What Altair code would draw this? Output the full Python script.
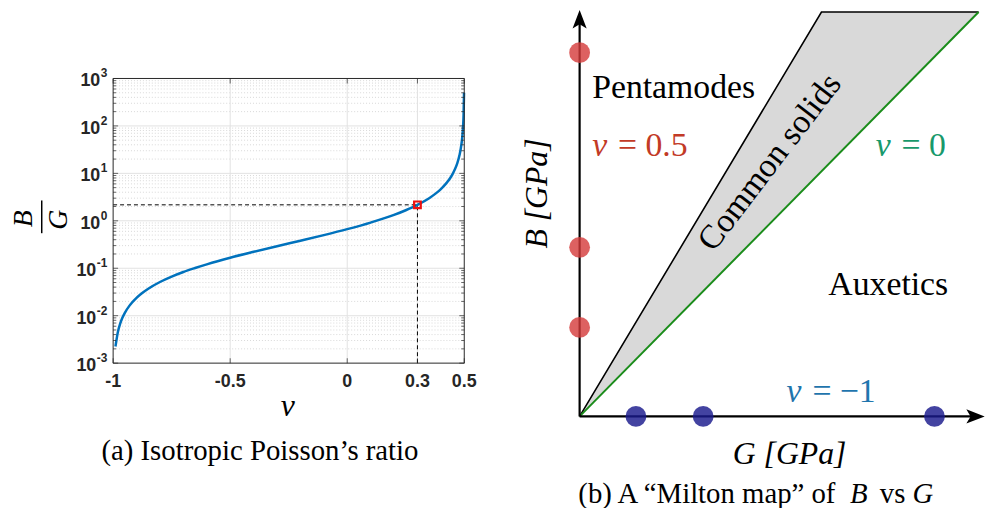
import altair as alt
import pandas as pd

# ---------------- data: (a) B/G versus Poisson's ratio ----------------
nu_vals = [-0.99, -0.98, -0.97, -0.96, -0.95, -0.93, -0.92, -0.9, -0.88, -0.85, -0.8, -0.75,
           -0.7, -0.65, -0.6, -0.5, -0.4, -0.3, -0.2, -0.1, 0.0, 0.1, 0.2, 0.25, 0.3, 0.35,
           0.38, 0.4, 0.42, 0.43, 0.44, 0.45, 0.46, 0.47, 0.48, 0.485, 0.49, 0.493, 0.495,
           0.497, 0.499]
bg_vals = [0.00224, 0.0045, 0.0068, 0.00913, 0.0115, 0.0163, 0.0188, 0.0238, 0.029, 0.037,
           0.0513, 0.0667, 0.0833, 0.101, 0.121, 0.167, 0.222, 0.292, 0.381, 0.5, 0.667,
           0.917, 1.33, 1.67, 2.17, 3.0, 3.83, 4.67, 5.92, 6.81, 8.0, 9.67, 12.2, 16.3, 24.7,
           33.0, 49.7, 71.1, 99.7, 166.0, 500.0]
marked_nu = [0.3]
marked_bg = [2.17]
nu_ticks = [-1, -0.5, 0, 0.3, 0.5]
nu_tick_labels = ["-1", "-0.5", "0", "0.3", "0.5"]
decade_exps = [-3, -2, -1, 0, 1, 2, 3]

# ---------------- data: (b) Milton map (schematic units) ----------------
pentamode_B = [89.5, 41.6, 21.9]
auxetic_G = [13.9, 30.5, 87.6]
solids_top_B = 99.5
solids_left_G = 59.7
solids_right_G = 98.5

# ---------------- scales ----------------
XL = alt.Scale(domain=[-1, 0.5], range=[106, 460], nice=False, zero=False)
YL = alt.Scale(type="log", domain=[1e-3, 1e3], range=[356, 69], nice=False)
XR = alt.Scale(domain=[0, 100], range=[576.3, 984.7], nice=False, zero=False)
YR = alt.Scale(domain=[0, 100], range=[409.7, 0], nice=False, zero=False)

AX = "#262626"
layers = []

def xl(f):
    return alt.X(f, type="quantitative", scale=XL, axis=None)

def yl(f):
    return alt.Y(f, type="quantitative", scale=YL, axis=None)

def xr(f):
    return alt.X(f, type="quantitative", scale=XR, axis=None)

def yr(f):
    return alt.Y(f, type="quantitative", scale=YR, axis=None)

# ---- panel (a) grids ----
minor_vals = [m * 10.0 ** k for k in range(-3, 3) for m in range(2, 10)]
minor_df = pd.DataFrame({"v": minor_vals, "x0": -1.0, "x1": 0.5})
layers.append(alt.Chart(minor_df).mark_rule(color="#cfcfcf", strokeWidth=0.8, strokeDash=[1, 2])
              .encode(y=yl("v"), x=xl("x0"), x2="x1"))
major_df = pd.DataFrame({"v": [10.0 ** e for e in decade_exps[1:-1]], "x0": -1.0, "x1": 0.5})
layers.append(alt.Chart(major_df).mark_rule(color="#e2e2e2", strokeWidth=1)
              .encode(y=yl("v"), x=xl("x0"), x2="x1"))
vgrid_df = pd.DataFrame({"v": nu_ticks[1:-1], "y0": 1e-3, "y1": 1e3})
layers.append(alt.Chart(vgrid_df).mark_rule(color="#e2e2e2", strokeWidth=1)
              .encode(x=xl("v"), y=yl("y0"), y2="y1"))

# ---- curve, dashed guides, marker ----
curve_df = pd.DataFrame({"nu": nu_vals, "bg": bg_vals})
layers.append(alt.Chart(curve_df).mark_line(color="#0072BD", strokeWidth=2.5, interpolate="monotone")
              .encode(x=xl("nu"), y=yl("bg")))
hdash = pd.DataFrame({"x0": [-1.0], "x1": marked_nu, "y": marked_bg})
layers.append(alt.Chart(hdash).mark_rule(color="black", strokeWidth=1, strokeDash=[4, 3])
              .encode(x=xl("x0"), x2="x1", y=yl("y")))
vdash = pd.DataFrame({"x": marked_nu, "y0": [1e-3], "y1": marked_bg})
layers.append(alt.Chart(vdash).mark_rule(color="black", strokeWidth=1, strokeDash=[4, 3])
              .encode(x=xl("x"), y=yl("y0"), y2="y1"))
mark_df = pd.DataFrame({"nu": marked_nu, "bg": marked_bg})
layers.append(alt.Chart(mark_df).mark_point(shape="square", filled=False, color="#ee1111",
                                             strokeWidth=2.2, size=45, opacity=1)
              .encode(x=xl("nu"), y=yl("bg")))

# ---- box and ticks ----
box_df = pd.DataFrame({"x0": [-1.0], "x1": [0.5], "y0": [1e-3], "y1": [1e3]})
layers.append(alt.Chart(box_df).mark_rect(fillOpacity=0, stroke=AX, strokeWidth=1)
              .encode(x=xl("x0"), x2="x1", y=yl("y0"), y2="y1"))
xt_df = pd.DataFrame({"v": nu_ticks, "lo": 1e-3, "hi": 1e3})
layers.append(alt.Chart(xt_df).mark_tick(orient="vertical", size=5, thickness=1, color=AX, yOffset=-2.5)
              .encode(x=xl("v"), y=yl("lo")))
layers.append(alt.Chart(xt_df).mark_tick(orient="vertical", size=5, thickness=1, color=AX, yOffset=2.5)
              .encode(x=xl("v"), y=yl("hi")))
yt_df = pd.DataFrame({"v": [10.0 ** e for e in decade_exps], "l": -1.0, "r": 0.5})
layers.append(alt.Chart(yt_df).mark_tick(orient="horizontal", size=5, thickness=1, color=AX, xOffset=2.5)
              .encode(y=yl("v"), x=xl("l")))
layers.append(alt.Chart(yt_df).mark_tick(orient="horizontal", size=5, thickness=1, color=AX, xOffset=-2.5)
              .encode(y=yl("v"), x=xl("r")))
ymt_df = pd.DataFrame({"v": minor_vals, "l": -1.0, "r": 0.5})
layers.append(alt.Chart(ymt_df).mark_tick(orient="horizontal", size=3, thickness=1, color=AX, xOffset=1.5)
              .encode(y=yl("v"), x=xl("l")))
layers.append(alt.Chart(ymt_df).mark_tick(orient="horizontal", size=3, thickness=1, color=AX, xOffset=-1.5)
              .encode(y=yl("v"), x=xl("r")))

# ---- tick labels ----
xlab_df = pd.DataFrame({"v": nu_ticks, "t": nu_tick_labels})
layers.append(alt.Chart(xlab_df).mark_text(font="Liberation Sans", fontWeight="bold", fontSize=18,
                                           color=AX, baseline="middle", align="center")
              .encode(x=xl("v"), y=alt.value(375), text="t:N"))
for group, base_x in (([e for e in decade_exps if e >= 0], 93.0), ([e for e in decade_exps if e < 0], 89.0)):
    df = pd.DataFrame({"v": [10.0 ** e for e in group], "b": "10", "s": [str(e) for e in group]})
    layers.append(alt.Chart(df).mark_text(font="Liberation Sans", fontWeight="bold", fontSize=18,
                                          color=AX, baseline="middle", align="right", dy=3)
                  .encode(x=alt.value(base_x), y=yl("v"), text="b:N"))
    layers.append(alt.Chart(df).mark_text(font="Liberation Sans", fontWeight="bold", fontSize=12,
                                          color=AX, baseline="middle", align="left", dy=-5)
                  .encode(x=alt.value(base_x + 0.5), y=yl("v"), text="s:N"))


def label(text, x, y, size=28, color="black", font="Liberation Serif", style="normal",
          align="left", baseline="alphabetic", angle=0, dx=0):
    return (alt.Chart(pd.DataFrame({"t": [text]}))
            .mark_text(font=font, fontSize=size, fontStyle=style, color=color, align=align,
                       baseline=baseline, angle=angle, dx=dx)
            .encode(x=alt.value(x), y=alt.value(y), text="t:N"))


# axis titles for (a)
layers.append(label("ν", 282, 409, size=32, style="italic", align="center"))
layers.append(label("B", 16, 210.5, size=28, style="italic", align="center", baseline="middle", angle=270))
layers.append(label("G", 51.5, 211.5, size=28, style="italic", align="center", baseline="middle", angle=270))
layers.append(alt.Chart(pd.DataFrame({"a": [0]})).mark_rule(color="black", strokeWidth=1.5)
              .encode(x=alt.value(34), y=alt.value(192), y2=alt.value(225)))
layers.append(label("(a) Isotropic Poisson’s ratio", 254, 454, size=29, align="center"))

# ---------------- panel (b) ----------------
area_df = pd.DataFrame({"B": [0.0, solids_top_B], "Gl": [0.0, solids_left_G], "Gr": [0.0, solids_right_G]})
layers.append(alt.Chart(area_df).mark_area(orient="horizontal", color="#d9d9d9", opacity=1)
              .encode(y=yr("B"), x=xr("Gl"), x2="Gr"))
edge_df = pd.DataFrame({"G": [0.0, solids_left_G, solids_right_G], "B": [0.0, solids_top_B, solids_top_B]})
layers.append(alt.Chart(edge_df).mark_line(color="black", strokeWidth=1.6)
              .encode(x=xr("G"), y=yr("B")))
green_df = pd.DataFrame({"G": [0.0, solids_right_G], "B": [0.0, solids_top_B]})
layers.append(alt.Chart(green_df).mark_line(color="#1a8c1a", strokeWidth=2)
              .encode(x=xr("G"), y=yr("B")))

# axes with arrows
axes_df = pd.DataFrame({"G0": [0.0, 0.0], "G1": [98.0, 0.0], "B0": [0.0, 0.0], "B1": [0.0, 98.0]})
layers.append(alt.Chart(axes_df).mark_rule(color="black", strokeWidth=2.2)
              .encode(x=xr("G0"), x2="G1", y=yr("B0"), y2="B1"))
up_df = pd.DataFrame({"G": [0.0], "B": [100.0]})
layers.append(alt.Chart(up_df).mark_point(shape="M0,-1 L0.75,0.95 L0,0.5 L-0.75,0.95 Z", filled=True,
                                           color="black", size=360, opacity=1, yOffset=9.5)
              .encode(x=xr("G"), y=yr("B")))
right_df = pd.DataFrame({"G": [100.0], "B": [0.0]})
layers.append(alt.Chart(right_df).mark_point(shape="M1,0 L-0.95,0.75 L-0.5,0 L-0.95,-0.75 Z", filled=True,
                                              color="black", size=360, opacity=1, xOffset=-9.5)
              .encode(x=xr("G"), y=yr("B")))

# material points
red_df = pd.DataFrame({"G": [0.0] * len(pentamode_B), "B": pentamode_B})
layers.append(alt.Chart(red_df).mark_circle(color="#d43a3a", opacity=0.8, size=440)
              .encode(x=xr("G"), y=yr("B")))
blue_df = pd.DataFrame({"G": auxetic_G, "B": [0.0] * len(auxetic_G)})
layers.append(alt.Chart(blue_df).mark_circle(color="#1a1a8c", opacity=0.82, size=440)
              .encode(x=xr("G"), y=yr("B")))


def rtext(text, g, b, size=34, color="black", style="normal", align="left", angle=0, dx=0,
          baseline="alphabetic"):
    return (alt.Chart(pd.DataFrame({"G": [g], "B": [b], "t": [text]}))
            .mark_text(font="Liberation Serif", fontSize=size, fontStyle=style, color=color,
                       align=align, baseline=baseline, angle=angle, dx=dx)
            .encode(x=xr("G"), y=yr("B"), text="t:N"))


RED_T = "#c23a26"
GRN_T = "#18996b"
BLU_T = "#1f75ad"
layers.append(rtext("Pentamodes", 3.1, 78.3))
layers.append(rtext("ν", 3.1, 64.1, color=RED_T, style="italic"))
layers.append(rtext("= 0.5", 3.1, 64.1, color=RED_T, dx=26))
layers.append(rtext("ν", 73.1, 64.1, color=GRN_T, style="italic"))
layers.append(rtext("= 0", 73.1, 64.1, color=GRN_T, dx=26))
layers.append(rtext("Common solids", 47.0, 62.5, align="center", baseline="middle", angle=307.4))
layers.append(rtext("Auxetics", 61.4, 29.9))
layers.append(rtext("ν", 51.1, 3.6, color=BLU_T, style="italic"))
layers.append(rtext("= −1", 51.1, 3.6, color=BLU_T, dx=26))

# axis titles and caption for (b)
layers.append(label("B [GPa]", 533, 185, size=32, style="italic", align="center", baseline="middle", angle=270))
layers.append(label("G [GPa]", 788, 458, size=32, style="italic", align="center"))
layers.append(label("(b) A “Milton map” of", 575, 497, size=29))
layers.append(label("B", 849, 497, size=29, style="italic"))
layers.append(label("vs", 879, 497, size=29))
layers.append(label("G", 912, 497, size=29, style="italic"))

chart = (alt.layer(*layers)
         .resolve_scale(x="independent", y="independent")
         .properties(width=985, height=500, autosize=alt.AutoSizeParams(type="none"), padding=0,
                     background="white")
         .configure_view(stroke=None))

chart.save("out.html", embed_options={"renderer": "svg", "actions": False})
